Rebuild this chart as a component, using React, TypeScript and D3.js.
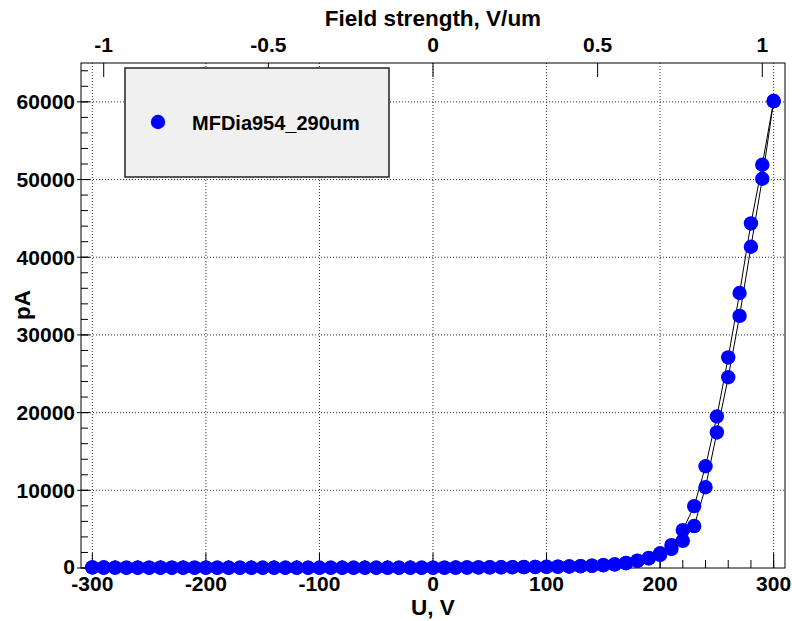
import React from "react";
import * as d3 from "d3";

// bias voltage, V
const voltage = [
    -300, -290, -280, -270, -260, -250, -240, -230, -220, -210,
    -200, -190, -180, -170, -160, -150, -140, -130, -120, -110,
    -100, -90, -80, -70, -60, -50, -40, -30, -20, -10,
    0, 10, 20, 30, 40, 50, 60, 70, 80, 90,
    100, 110, 120, 130, 140, 150, 160, 170, 180, 190,
    200, 210, 220, 230, 240, 250, 260, 270, 280, 290, 300,
];

// current, pA (two sweeps of the same diode)
const sweepUp = [
    80, 60, 50, 50, 40, 40, 40, 40, 40, 40,
    40, 40, 30, 30, 30, 30, 30, 30, 30, 30,
    30, 30, 30, 30, 30, 30, 30, 30, 30, 30,
    40, 50, 60, 70, 80, 90, 100, 110, 120, 140,
    160, 180, 200, 240, 290, 370, 470, 650, 940, 1300,
    1900, 2950, 4880, 7970, 13100, 19500, 27100, 35400, 44350, 51900, 60100,
];
const sweepDown = [
    70, 60, 50, 40, 40, 40, 40, 40, 40, 40,
    40, 30, 30, 30, 30, 30, 30, 30, 30, 30,
    30, 30, 30, 30, 30, 30, 30, 30, 30, 30,
    40, 40, 50, 60, 70, 80, 90, 100, 110, 130,
    150, 170, 190, 230, 280, 350, 450, 620, 900, 1220,
    1700, 2450, 3500, 5400, 10400, 17450, 24550, 32450, 41350, 50100, 60100,
];

const xTickValues = [-300, -200, -100, 0, 100, 200, 300];
const yTickValues = [0, 10000, 20000, 30000, 40000, 50000, 60000];
const fieldTickValues = [-1, -0.5, 0, 0.5, 1];
const thickness = 290; // um
const seriesName = "MFDia954_290um";

const W = 792;
const H = 621;
const left = 81, right = 785, top = 63, bottom = 568;
const font = "'Liberation Sans', Arial, Helvetica, sans-serif";

export default function App() {
    const x = d3.scaleLinear().domain([-310, 310]).range([left, right]);
    const xTop = d3.scaleLinear().domain([-310 / thickness, 310 / thickness]).range([left, right]);
    const y = d3.scaleLinear().domain([0, 65000]).range([bottom, top]);

    const xMinor = x.ticks(30);
    const yMinor = y.ticks(30).filter((v) => v < 65000);

    const line = d3
        .line<number>()
        .x((_, i) => x(voltage[i]))
        .y((d) => y(d));

    const series = [sweepUp, sweepDown];

    return (
        <svg width={W} height={H} style={{ position: "absolute", left: 0, top: 0, background: "#fff" }}>
            <rect x={0} y={0} width={W} height={H} fill="#fff" />

            {/* grid */}
            <g stroke="#333" strokeWidth={1} strokeDasharray="1 2">
                {xTickValues.map((v) => (
                    <line key={"gx" + v} x1={x(v)} x2={x(v)} y1={top} y2={bottom} />
                ))}
                {yTickValues.filter((v) => v > 0).map((v) => (
                    <line key={"gy" + v} x1={left} x2={right} y1={y(v)} y2={y(v)} />
                ))}
            </g>

            {/* frame */}
            <rect x={left} y={top} width={right - left} height={bottom - top} fill="none" stroke="#000" strokeWidth={1} />

            {/* axis ticks */}
            <g stroke="#000" strokeWidth={1}>
                {xMinor.map((v) => (
                    <line key={"xm" + v} x1={x(v)} x2={x(v)} y1={bottom} y2={bottom - 8} />
                ))}
                {xTickValues.map((v) => (
                    <line key={"xM" + v} x1={x(v)} x2={x(v)} y1={bottom} y2={bottom - 15} />
                ))}
                {yMinor.map((v) => (
                    <line key={"ym" + v} x1={left} x2={left + 7} y1={y(v)} y2={y(v)} />
                ))}
                {yTickValues.map((v) => (
                    <line key={"yM" + v} x1={left - 4} x2={left + 9} y1={y(v)} y2={y(v)} />
                ))}
                {fieldTickValues.map((v) => (
                    <line key={"tM" + v} x1={xTop(v)} x2={xTop(v)} y1={top} y2={top + 14} />
                ))}
            </g>

            {/* tick labels */}
            <g fontFamily={font} fontWeight="bold" fontSize={21} fill="#000">
                {xTickValues.map((v) => (
                    <text key={"xl" + v} x={x(v)} y={591} textAnchor="middle">{String(v)}</text>
                ))}
                {yTickValues.map((v) => (
                    <text key={"yl" + v} x={75} y={y(v) + (v === 0 ? 6 : 7.5)} textAnchor="end">{String(v)}</text>
                ))}
                {fieldTickValues.map((v) => (
                    <text key={"tl" + v} x={xTop(v)} y={52} textAnchor="middle">{String(v)}</text>
                ))}
            </g>

            {/* axis titles */}
            <g fontFamily={font} fontWeight="bold" fill="#000" fontSize={22.5}>
                <text x={(left + right) / 2} y={26} textAnchor="middle">Field strength, V/um</text>
                <text x={(left + right) / 2} y={615} textAnchor="middle">U, V</text>
                <text transform="translate(30,305) rotate(-90)" textAnchor="middle">pA</text>
            </g>

            {/* series lines */}
            {series.map((s, i) => (
                <path key={"l" + i} d={line(s) ?? ""} fill="none" stroke="#000" strokeWidth={1} />
            ))}
            {/* markers */}
            {series.map((s, i) =>
                s.map((d, j) => (
                    <circle key={"m" + i + "-" + j} cx={x(voltage[j])} cy={y(d)} r={7.2} fill="#0000ff" />
                ))
            )}

            {/* legend */}
            <rect x={125} y={68} width={264} height={109} fill="#f0f0f0" stroke="#222" strokeWidth={1.5} />
            <circle cx={158} cy={122} r={7.2} fill="#0000ff" />
            <text x={192} y={129.5} fontFamily={font} fontWeight="bold" fontSize={20} fill="#000">
                {seriesName}
            </text>
        </svg>
    );
}
